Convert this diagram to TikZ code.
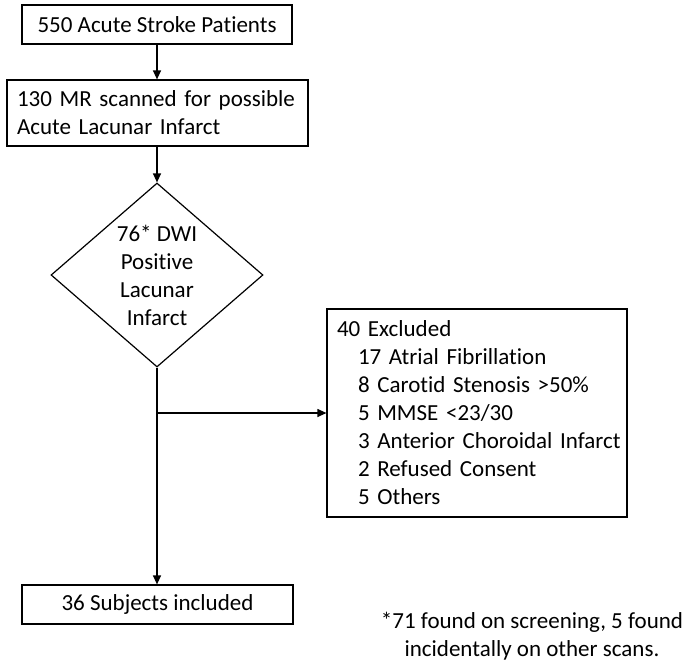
\documentclass[tikz,border=0pt]{standalone}
\usepackage{fontspec}
\setmainfont{Carlito}[Ligatures={NoCommon}]
\usetikzlibrary{shapes.geometric,arrows.meta}
\tikzset{
  box/.style={draw, line width=1.2pt, fill=white, inner sep=0pt, font=\fontsize{23}{28}\selectfont},
  conn/.style={line width=1.2pt, -{Triangle[length=9pt,width=8pt]}},
  txt/.style={font=\fontsize{23}{28}\selectfont, inner sep=0pt, align=center}
}
\newcommand{\ind}{\hspace*{21pt}}
\begin{document}
\begin{tikzpicture}[x=1pt,y=-1pt]
\useasboundingbox (0,0) rectangle (688,670);
\node[box, minimum width=270pt, minimum height=39pt] (n1) at (157,24.5) {550 Acute Stroke Patients};
\node[box, text width=281pt, inner xsep=10pt, minimum height=66pt, align=left] (n2) at (157.5,113) {\mbox{130 MR scanned for possible}\\\mbox{Acute Lacunar Infarct}};
\node[draw, line width=1.2pt, diamond, minimum width=212pt, minimum height=184pt, inner sep=0pt] (d) at (157,275) {};
\node[txt] (dt) at (d.center) {76* DWI\\Positive\\Lacunar\\Infarct};
\node[box, text width=280pt, inner xsep=10pt, minimum height=208pt, align=left] (ex) at (477,413) {\mbox{40 Excluded}\\
\mbox{\ind 17 Atrial Fibrillation}\\
\mbox{\ind 8 Carotid Stenosis >50\%}\\
\mbox{\ind 5 MMSE <23/30}\\
\mbox{\ind 3 Anterior Choroidal Infarct}\\
\mbox{\ind 2 Refused Consent}\\
\mbox{\ind 5 Others}};
\node[box, minimum width=271pt, minimum height=39pt] (n3) at (157.5,604.5) {36 Subjects included};
\node[txt] (fn) at (532,636.5) {*71 found on screening, 5 found\\incidentally on other scans.};
\coordinate (b) at (157,413);
\draw[conn] (n1.south) -- (n1.south |- n2.north);
\draw[conn] (d.north |- n2.south) -- (d.north);
\draw[conn] (d.south) -- (d.south |- n3.north);
\draw[conn] (b) -- (ex.west);
\end{tikzpicture}
\end{document}
